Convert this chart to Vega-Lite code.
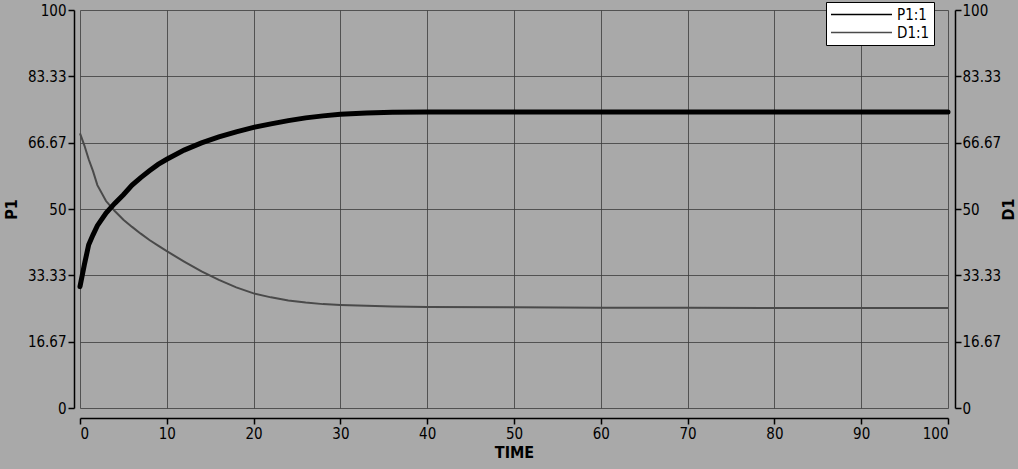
{
  "$schema": "https://vega.github.io/schema/vega-lite/v6.json",
  "width": 868,
  "height": 398,
  "autosize": "none",
  "padding": {"left": 80, "top": 10, "right": 70, "bottom": 61},
  "background": "#a9a9a9",
  "config": {
    "view": {"fill": "#a9a9a9", "stroke": null},
    "font": "Liberation Sans Narrow, DejaVu Sans Condensed, sans-serif",
    "axis": {
      "domainColor": "#000000",
      "domainWidth": 1.5,
      "tickColor": "#000000",
      "tickWidth": 1.5,
      "tickSize": 6,
      "labelFont": "Liberation Sans Narrow, DejaVu Sans Condensed, sans-serif",
      "labelFontSize": 15,
      "labelColor": "#000000",
      "titleFont": "Liberation Sans Narrow, DejaVu Sans Condensed, sans-serif",
      "titleFontSize": 16,
      "titleFontWeight": "bold",
      "titleColor": "#000000",
      "gridColor": "#3c3c3c",
      "gridWidth": 1,
      "gridOpacity": 0.8
    }
  },
  "data": {
    "values": [
      {"t": 0, "series": "P1:1", "value": 30.5},
      {"t": 0.5, "series": "P1:1", "value": 36},
      {"t": 1, "series": "P1:1", "value": 41},
      {"t": 1.5, "series": "P1:1", "value": 43.5},
      {"t": 2, "series": "P1:1", "value": 45.8},
      {"t": 3, "series": "P1:1", "value": 49},
      {"t": 4, "series": "P1:1", "value": 51.4},
      {"t": 5, "series": "P1:1", "value": 53.6},
      {"t": 6, "series": "P1:1", "value": 56},
      {"t": 7, "series": "P1:1", "value": 57.9},
      {"t": 8, "series": "P1:1", "value": 59.6},
      {"t": 9, "series": "P1:1", "value": 61.2},
      {"t": 10, "series": "P1:1", "value": 62.5},
      {"t": 12, "series": "P1:1", "value": 64.8},
      {"t": 14, "series": "P1:1", "value": 66.6},
      {"t": 16, "series": "P1:1", "value": 68.1},
      {"t": 18, "series": "P1:1", "value": 69.4},
      {"t": 20, "series": "P1:1", "value": 70.5},
      {"t": 22, "series": "P1:1", "value": 71.4},
      {"t": 24, "series": "P1:1", "value": 72.2},
      {"t": 26, "series": "P1:1", "value": 72.9},
      {"t": 28, "series": "P1:1", "value": 73.4},
      {"t": 30, "series": "P1:1", "value": 73.8},
      {"t": 33, "series": "P1:1", "value": 74.1},
      {"t": 36, "series": "P1:1", "value": 74.3},
      {"t": 40, "series": "P1:1", "value": 74.4},
      {"t": 50, "series": "P1:1", "value": 74.4},
      {"t": 60, "series": "P1:1", "value": 74.4},
      {"t": 70, "series": "P1:1", "value": 74.4},
      {"t": 80, "series": "P1:1", "value": 74.4},
      {"t": 90, "series": "P1:1", "value": 74.4},
      {"t": 100, "series": "P1:1", "value": 74.4},
      {"t": 0, "series": "D1:1", "value": 69},
      {"t": 0.5, "series": "D1:1", "value": 66},
      {"t": 1, "series": "D1:1", "value": 62.5},
      {"t": 1.5, "series": "D1:1", "value": 59.5},
      {"t": 2, "series": "D1:1", "value": 56},
      {"t": 3, "series": "D1:1", "value": 52},
      {"t": 4, "series": "D1:1", "value": 49.5},
      {"t": 5, "series": "D1:1", "value": 47.3},
      {"t": 6, "series": "D1:1", "value": 45.5},
      {"t": 7, "series": "D1:1", "value": 43.8},
      {"t": 8, "series": "D1:1", "value": 42.2},
      {"t": 9, "series": "D1:1", "value": 40.8},
      {"t": 10, "series": "D1:1", "value": 39.4},
      {"t": 12, "series": "D1:1", "value": 36.8},
      {"t": 14, "series": "D1:1", "value": 34.3},
      {"t": 16, "series": "D1:1", "value": 32.2},
      {"t": 18, "series": "D1:1", "value": 30.3},
      {"t": 20, "series": "D1:1", "value": 28.8},
      {"t": 22, "series": "D1:1", "value": 27.8},
      {"t": 24, "series": "D1:1", "value": 27},
      {"t": 26, "series": "D1:1", "value": 26.5},
      {"t": 28, "series": "D1:1", "value": 26.1},
      {"t": 30, "series": "D1:1", "value": 25.9},
      {"t": 33, "series": "D1:1", "value": 25.7},
      {"t": 36, "series": "D1:1", "value": 25.5},
      {"t": 40, "series": "D1:1", "value": 25.4},
      {"t": 50, "series": "D1:1", "value": 25.3},
      {"t": 60, "series": "D1:1", "value": 25.2},
      {"t": 70, "series": "D1:1", "value": 25.2},
      {"t": 80, "series": "D1:1", "value": 25.1},
      {"t": 90, "series": "D1:1", "value": 25.1},
      {"t": 100, "series": "D1:1", "value": 25.1}
    ]
  },
  "layer": [
    {
      "transform": [{"filter": "datum.series === 'D1:1'"}],
      "mark": {"type": "line", "strokeWidth": 2},
      "encoding": {
        "x": {
          "field": "t", "type": "quantitative",
          "scale": {"domain": [0, 100], "nice": false},
          "axis": {"values": [0,10,20,30,40,50,60,70,80,90,100], "title": "TIME", "offset": 10, "labelPadding": 2, "titlePadding": 3, "grid": true}
        },
        "y": {
          "field": "value", "type": "quantitative",
          "scale": {"domain": [0, 100], "nice": false},
          "axis": {"orient": "right", "title": "D1", "titleAngle": -90, "values": [0, 16.67, 33.33, 50, 66.67, 83.33, 100], "format": ".2~f", "offset": 7, "labelPadding": 1, "titlePadding": 16, "grid": false}
        },
        "color": {
          "field": "series", "type": "nominal",
          "scale": {"domain": ["P1:1", "D1:1"], "range": ["#000000", "#4a4a4a"]},
          "legend": {
            "title": null, "orient": "none", "legendX": 746, "legendY": -8,
            "symbolType": "M-1,0H7.13", "symbolSize": 225, "symbolStrokeWidth": 1.5,
            "labelFontSize": 15, "labelFont": "Liberation Sans Narrow, DejaVu Sans Condensed, sans-serif", "labelColor": "#000000", "labelOffset": 50,
            "fillColor": "#ffffff", "strokeColor": "#000000", "padding": 4, "rowPadding": 1,
            "encode": {"symbols": {"update": {"stroke": {"value": "#000000"}, "strokeWidth": {"value": 1.5}, "fill": {"value": "transparent"}}}}
          }
        }
      }
    },
    {
      "transform": [{"filter": "datum.series === 'P1:1'"}],
      "mark": {"type": "line", "strokeWidth": 5, "strokeCap": "round"},
      "encoding": {
        "x": {
          "field": "t", "type": "quantitative",
          "scale": {"domain": [0, 100], "nice": false},
          "axis": {"values": [0,10,20,30,40,50,60,70,80,90,100], "title": "TIME", "offset": 10, "labelPadding": 2, "titlePadding": 3, "grid": true}
        },
        "y": {
          "field": "value", "type": "quantitative",
          "scale": {"domain": [0, 100], "nice": false},
          "axis": {"orient": "left", "title": "P1", "values": [0, 16.67, 33.33, 50, 66.67, 83.33, 100], "format": ".2~f", "offset": 6, "labelPadding": 2, "titlePadding": 8, "grid": true}
        },
        "color": {
          "field": "series", "type": "nominal",
          "scale": {"domain": ["P1:1", "D1:1"], "range": ["#000000", "#4a4a4a"]}
        }
      }
    }
  ],
  "resolve": {"scale": {"y": "independent"}}
}
